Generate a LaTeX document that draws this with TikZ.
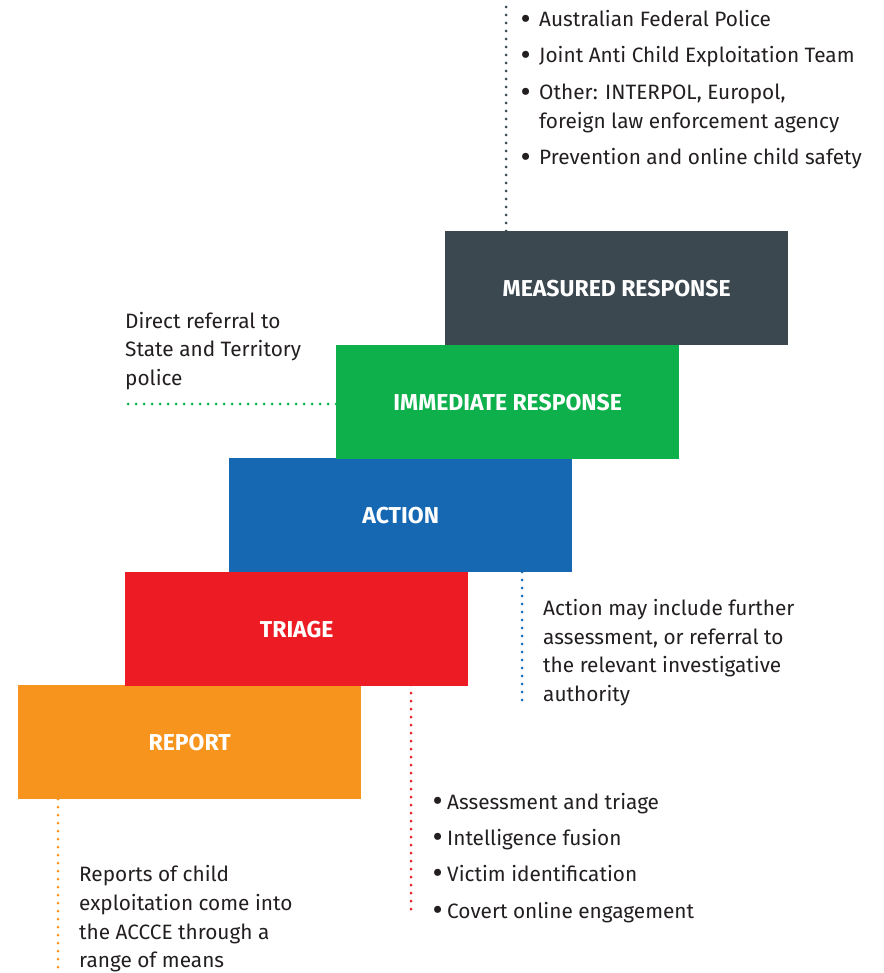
\documentclass[tikz,border=0pt]{standalone}
\usepackage{fontspec}
\usepackage{graphicx}
\setmainfont{Fira Sans}
\definecolor{cMeas}{HTML}{3B4850}
\definecolor{cImm}{HTML}{0DB04B}
\definecolor{cAct}{HTML}{1668B3}
\definecolor{cTri}{HTML}{ED1C24}
\definecolor{cRep}{HTML}{F7941D}
\definecolor{cText}{HTML}{231F20}
\newcommand{\bul}[1]{\makebox[#1][l]{\kern-1.5pt\raisebox{-2.4pt}{\scalebox{1.5}{•}}}}
\begin{document}
\begin{tikzpicture}[x=1pt,y=1pt,
  stage/.style={fill=#1,draw=none,minimum width=343pt,minimum height=114pt,inner sep=0pt,anchor=north west,
    text=white,font=\fontsize{23}{27}\selectfont\bfseries},
  dots/.style={draw=#1,line width=3pt,line cap=round,dash pattern=on 0pt off 8pt},
  txt/.style={anchor=base west,inner sep=0pt,text=cText,font=\fontsize{20.8}{29}\selectfont},
  blt/.style={txt}]
\useasboundingbox (0,0) rectangle (883,-973);
% boxes
\node[stage=cRep]  (report)    at (18,-685) {REPORT};
\node[stage=cTri]  (triage)    at (125,-572) {TRIAGE};
\node[stage=cAct]  (action)    at (229,-458) {ACTION};
\node[stage=cImm]  (immediate) at (336,-345) {IMMEDIATE RESPONSE};
\node[stage=cMeas] (measured)  at (445,-231) {MEASURED RESPONSE};
% free ends
\coordinate (mtop) at (506,-5);
\coordinate (mbot) at (506,-231);
\coordinate (ileft) at (127,-404);
\coordinate (iright) at (336,-404);
\coordinate (atop) at (522,-572);
\coordinate (abot) at (522,-703);
\coordinate (ttop) at (411,-685);
\coordinate (tbot) at (411,-915);
\coordinate (rtop) at (58,-799);
\coordinate (rbot) at (58,-968);
\draw[dots=cMeas] (mbot) -- (mtop);
\draw[dots=cImm] (iright) -- (ileft);
\draw[dots=cAct] (atop) -- (abot);
\draw[dots=cTri] (ttop) -- (tbot);
\draw[dots=cRep] (rtop) -- (rbot);
% measured response list
\node[blt] (m1) at (522,-27) {\bul{17pt}Australian Federal Police};
\node[blt] (m2) at (522,-63) {\bul{17pt}Joint Anti Child Exploitation Team};
\node[blt] (m3) at (522,-100) {\bul{17pt}Other: INTERPOL, Europol,};
\node[txt] (m4) at (539,-129) {foreign law enforcement agency};
\node[blt] (m5) at (522,-165) {\bul{17pt}Prevention and online child safety};
% immediate
\node[txt] (i1) at (125,-328) {Direct referral to};
\node[txt] (i2) at (125,-356) {State and Territory};
\node[txt] (i3) at (125,-385) {police};
% action
\node[txt] (a1) at (543,-615) {Action may include further};
\node[txt] (a2) at (543,-644) {assessment, or referral to};
\node[txt] (a3) at (543,-672) {the relevant investigative};
\node[txt] (a4) at (543,-701) {authority};
% triage
\node[blt] (t1) at (434,-809) {\bul{13pt}Assessment and triage};
\node[blt] (t2) at (434,-845) {\bul{13pt}Intelligence fusion};
\node[blt] (t3) at (434,-881) {\bul{13pt}Victim identification};
\node[blt] (t4) at (434,-918) {\bul{13pt}Covert online engagement};
% report
\node[txt] (r1) at (79,-881) {Reports of child};
\node[txt] (r2) at (79,-910) {exploitation come into};
\node[txt] (r3) at (79,-939) {the ACCCE through a};
\node[txt] (r4) at (79,-967) {range of means};
\end{tikzpicture}
\end{document}
